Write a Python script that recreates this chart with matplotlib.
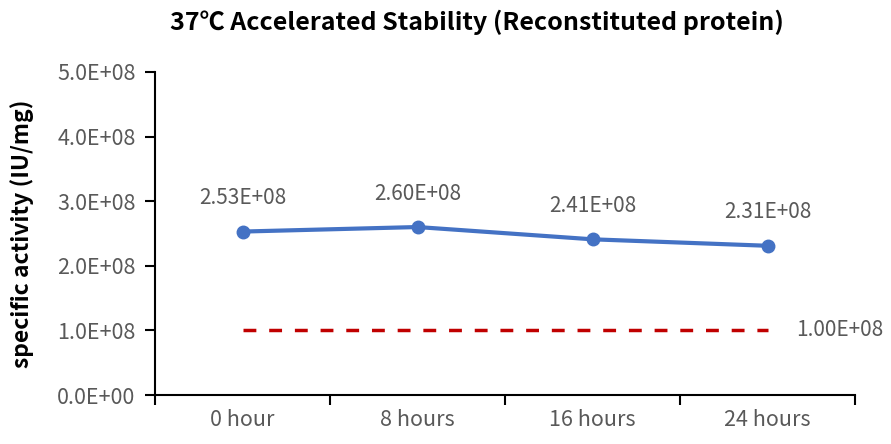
import matplotlib
matplotlib.use("Agg")
import matplotlib.pyplot as plt

categories = ["0 hour", "8 hours", "16 hours", "24 hours"]
activity = [2.53e8, 2.60e8, 2.41e8, 2.31e8]
spec_limit = [1.0e8, 1.0e8, 1.0e8, 1.0e8]
yticks = [0, 1e8, 2e8, 3e8, 4e8, 5e8]
ytick_labels = ["0.0E+00", "1.0E+08", "2.0E+08", "3.0E+08", "4.0E+08", "5.0E+08"]
point_labels = ["2.53E+08", "2.60E+08", "2.41E+08", "2.31E+08"]
limit_label = "1.00E+08"

plt.rcParams['font.family'] = ['Noto Sans CJK SC', 'DejaVu Sans']

fig = plt.figure(figsize=(8.91, 4.44), dpi=100)
ax = fig.add_axes([155/891, 1-395/444, 700/891, (395-72)/444])

x = list(range(len(categories)))
ax.plot(x, activity, color="#4472C4", lw=3.0, marker="o", ms=9, zorder=3)
ax.plot(x, spec_limit, color="#C00000", lw=2.5, ls=(0, (3.7, 3.7)), zorder=2)

for xi, v, lab in zip(x, activity, point_labels):
    ax.annotate(lab, (xi, v), xytext=(0, 24), textcoords="offset points",
                ha="center", va="center", fontsize=15, color="#595959")
ax.annotate(limit_label, (x[-1], spec_limit[-1]), xytext=(52, 0), textcoords="offset points",
            ha="center", va="center", fontsize=15, color="#595959")

ax.set_xlim(-0.5, len(categories) - 0.5)
ax.set_ylim(0, 5e8)
ax.set_yticks(yticks)
ax.set_yticklabels(ytick_labels, fontsize=15.5, color="#595959")
ax.set_xticks(x)
ax.set_xticklabels(categories, fontsize=15.5, color="#595959")
ax.tick_params(axis="x", length=0, pad=10)
ax.set_xticks([i - 0.5 for i in range(len(categories) + 1)], minor=True)
ax.tick_params(axis="x", which="minor", length=7, width=1.5, direction="out")
ax.tick_params(axis="y", length=7, width=1.5, direction="out", pad=7)

for s in ["top", "right"]:
    ax.spines[s].set_visible(False)
for s in ["left", "bottom"]:
    ax.spines[s].set_linewidth(1.5)
    ax.spines[s].set_color("black")

ax.set_ylabel("specific activity (IU/mg)", fontsize=16.5, fontweight="bold", color="black")
ax.yaxis.set_label_coords((34 - 155) / 700, 0.5)
fig.text(477/891, 1-22/444, "37\u2103 Accelerated Stability (Reconstituted protein)",
         ha="center", va="center", fontsize=18, fontweight="bold", color="black")

fig.savefig("out.png", dpi=100)
